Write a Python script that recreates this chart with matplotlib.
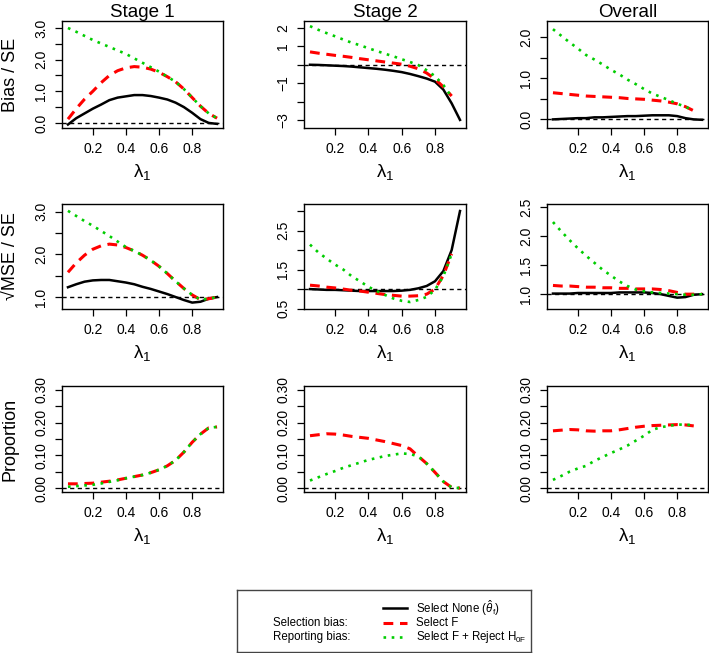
import numpy as np
import matplotlib
matplotlib.use("Agg")
import matplotlib.pyplot as plt

plt.rcParams['font.family'] = ['Liberation Sans', 'DejaVu Sans']
plt.rcParams['mathtext.fontset'] = 'custom'
plt.rcParams['mathtext.rm'] = 'Liberation Sans'
plt.rcParams['mathtext.it'] = 'Liberation Sans:italic'
plt.rcParams['mathtext.bf'] = 'Liberation Sans:bold'

nan = np.nan

# lambda_1 grid
lam = [0.05, 0.10, 0.15, 0.20, 0.25, 0.30, 0.35, 0.40, 0.45, 0.50,
       0.55, 0.60, 0.65, 0.70, 0.75, 0.80, 0.85, 0.90, 0.95]

# Bias / SE
bias_s1_none = [-0.05, 0.15, 0.30, 0.45, 0.58, 0.72, 0.80, 0.84, 0.88, 0.88,
                0.85, 0.80, 0.74, 0.64, 0.50, 0.32, 0.12, 0.00, -0.03]
bias_s1_sel = [0.12, 0.45, 0.75, 1.00, 1.27, 1.50, 1.65, 1.74, 1.78, 1.76,
               1.70, 1.60, 1.46, 1.30, 1.07, 0.80, 0.53, 0.30, 0.15]
bias_s1_rep = [3.00, 2.88, 2.75, 2.62, 2.51, 2.40, 2.29, 2.18, 2.04, 1.90,
               1.76, 1.62, 1.46, 1.30, 1.07, 0.80, 0.53, 0.30, 0.15]

bias_s2_none = [0.00, -0.01, -0.03, -0.05, -0.07, -0.10, -0.14, -0.18, -0.22, -0.27,
                -0.33, -0.40, -0.50, -0.62, -0.75, -0.92, -1.35, -2.10, -3.00]
bias_s2_sel = [0.70, 0.63, 0.57, 0.51, 0.46, 0.40, 0.33, 0.27, 0.21, 0.15,
               0.09, 0.03, -0.08, -0.22, -0.45, -0.78, -1.20, -1.70, nan]
bias_s2_rep = [2.10, 1.90, 1.72, 1.55, 1.37, 1.20, 1.06, 0.90, 0.75, 0.60,
               0.46, 0.30, 0.15, -0.02, -0.30, -0.62, -1.10, -1.75, nan]

bias_ov_none = [0.00, 0.01, 0.02, 0.03, 0.03, 0.05, 0.05, 0.06, 0.07, 0.08,
                0.08, 0.09, 0.10, 0.10, 0.10, 0.08, 0.03, 0.00, -0.01]
bias_ov_sel = [0.65, 0.63, 0.61, 0.59, 0.57, 0.56, 0.55, 0.54, 0.53, 0.51,
               0.50, 0.49, 0.47, 0.45, 0.42, 0.38, 0.31, 0.21, nan]
bias_ov_rep = [2.20, 2.04, 1.88, 1.73, 1.57, 1.46, 1.34, 1.21, 1.10, 0.97,
               0.86, 0.74, 0.63, 0.55, 0.47, 0.38, 0.31, 0.21, nan]

# sqrt(MSE) / SE
mse_s1_none = [1.23, 1.30, 1.36, 1.39, 1.40, 1.40, 1.37, 1.34, 1.30, 1.24,
               1.19, 1.13, 1.07, 1.00, 0.93, 0.87, 0.89, 0.96, 1.00]
mse_s1_sel = [1.58, 1.80, 1.98, 2.12, 2.20, 2.24, 2.22, 2.16, 2.08, 1.98,
              1.86, 1.72, 1.55, 1.37, 1.20, 1.05, 0.94, 0.96, 1.00]
mse_s1_rep = [3.02, 2.90, 2.78, 2.67, 2.55, 2.43, 2.30, 2.17, 2.08, 1.98,
              1.86, 1.72, 1.55, 1.37, 1.20, 1.05, 0.94, 0.96, 1.00]

mse_s2_none = [1.00, 0.99, 0.98, 0.98, 0.97, 0.96, 0.95, 0.95, 0.95, 0.95,
               0.95, 0.96, 0.98, 1.02, 1.08, 1.20, 1.46, 2.00, 3.00]
mse_s2_sel = [1.10, 1.08, 1.05, 1.03, 1.00, 0.97, 0.95, 0.92, 0.89, 0.86,
              0.84, 0.82, 0.82, 0.83, 0.87, 1.00, 1.35, 1.90, nan]
mse_s2_rep = [2.14, 1.94, 1.78, 1.63, 1.50, 1.33, 1.20, 1.06, 0.95, 0.85,
              0.76, 0.70, 0.67, 0.72, 0.80, 0.98, 1.33, 1.90, nan]

mse_ov_none = [1.01, 1.01, 1.01, 1.02, 1.02, 1.02, 1.02, 1.02, 1.03, 1.03,
               1.03, 1.03, 1.02, 1.00, 0.97, 0.94, 0.95, 0.99, 1.00]
mse_ov_sel = [1.15, 1.14, 1.14, 1.13, 1.12, 1.12, 1.11, 1.11, 1.10, 1.10,
              1.09, 1.09, 1.09, 1.08, 1.06, 1.03, 1.00, 1.00, 1.00]
mse_ov_rep = [2.24, 2.08, 1.93, 1.79, 1.66, 1.54, 1.42, 1.32, 1.22, 1.14,
              1.08, 1.05, 1.03, 1.02, 1.01, 1.00, 0.99, 0.99, 1.00]

# Proportion
prop_s1_sel = [0.013, 0.013, 0.014, 0.015, 0.018, 0.021, 0.025, 0.030, 0.035, 0.040,
               0.047, 0.056, 0.068, 0.085, 0.110, 0.140, 0.165, 0.184, 0.187]
prop_s1_rep = [0.004, 0.006, 0.008, 0.010, 0.014, 0.019, 0.024, 0.030, 0.035, 0.040,
               0.047, 0.056, 0.068, 0.085, 0.110, 0.140, 0.165, 0.184, 0.187]

prop_s2_sel = [0.160, 0.163, 0.166, 0.165, 0.162, 0.158, 0.155, 0.152, 0.147, 0.142,
               0.136, 0.130, 0.120, 0.097, 0.075, 0.048, 0.020, 0.002, 0.000]
prop_s2_rep = [0.023, 0.033, 0.043, 0.052, 0.062, 0.070, 0.078, 0.086, 0.092, 0.098,
               0.102, 0.106, 0.104, 0.097, 0.075, 0.048, 0.020, 0.002, 0.000]

prop_ov_sel = [0.175, 0.177, 0.179, 0.178, 0.175, 0.174, 0.175, 0.175, 0.178, 0.182,
               0.186, 0.189, 0.191, 0.192, 0.193, 0.194, 0.193, 0.190, nan]
prop_ov_rep = [0.025, 0.037, 0.050, 0.060, 0.068, 0.083, 0.095, 0.107, 0.118, 0.130,
               0.145, 0.160, 0.178, 0.186, 0.190, 0.194, 0.194, 0.192, nan]

col_titles = ['Stage 1', 'Stage 2', 'Overall']
row_labels = ['Bias / SE', '\u221aMSE / SE', 'Proportion']
ref_levels = [0.0, 1.0, 0.0]

series = [
    [(bias_s1_none, bias_s1_sel, bias_s1_rep),
     (bias_s2_none, bias_s2_sel, bias_s2_rep),
     (bias_ov_none, bias_ov_sel, bias_ov_rep)],
    [(mse_s1_none, mse_s1_sel, mse_s1_rep),
     (mse_s2_none, mse_s2_sel, mse_s2_rep),
     (mse_ov_none, mse_ov_sel, mse_ov_rep)],
    [(None, prop_s1_sel, prop_s1_rep),
     (None, prop_s2_sel, prop_s2_rep),
     (None, prop_ov_sel, prop_ov_rep)],
]

# y axis setup per panel: limits, tick positions, labelled ticks
ylims = [[(-0.16, 3.22), (-3.44, 2.38), (-0.21, 2.40)],
         [(0.72, 3.18), (0.49, 3.18), (0.745, 2.55)],
         [(-0.012, 0.312)] * 3]
yticks = [[np.arange(0, 3.01, 0.5), np.arange(-3, 2.01, 1), np.arange(0, 2.01, 0.5)],
          [np.arange(1, 3.01, 0.5), np.arange(0.5, 3.01, 0.5), np.arange(1, 2.51, 0.5)],
          [np.arange(0, 0.301, 0.05)] * 3]
ylabeled = [[[0.0, 1.0, 2.0, 3.0], [2, 1, -1, -3], [0.0, 1.0, 2.0]],
            [[1.0, 2.0, 3.0], [0.5, 1.5, 2.5], [1.0, 1.5, 2.0, 2.5]],
            [[0.0, 0.1, 0.2, 0.3]] * 3]
yfmt = [['{:.1f}', '{:.0f}', '{:.1f}'],
        ['{:.1f}'] * 3,
        ['{:.2f}'] * 3]

RED = '#FF0000'
GREEN = '#00CD00'
DOTS = (0, (1, 2.1))

W, H = 709, 653
fig = plt.figure(figsize=(W / 100, H / 100), dpi=100)

lefts = [62, 304, 547]
widths = [161, 162, 161]
tops = [21, 204, 386]
bottoms = [128, 309, 492]

for r in range(3):
    for c in range(3):
        ax = fig.add_axes([lefts[c] / W, 1 - bottoms[r] / H,
                           widths[c] / W, (bottoms[r] - tops[r]) / H])
        none_v, sel_v, rep_v = series[r][c]
        ax.axhline(ref_levels[r], color='black', lw=1.0, dashes=(3, 2.5), zorder=1)
        if none_v is not None:
            ax.plot(lam, none_v, color='black', lw=1.8, zorder=3)
        ax.plot(lam, sel_v, color=RED, lw=2.2, dashes=(3.2, 2.2), zorder=4)
        ax.plot(lam, rep_v, color=GREEN, lw=1.9, linestyle=DOTS, zorder=5)

        ax.set_xlim(0.014, 0.986)
        ax.set_ylim(*ylims[r][c])
        ax.set_xticks([0.2, 0.4, 0.6, 0.8])
        ax.set_xticklabels(['0.2', '0.4', '0.6', '0.8'])
        ticks = yticks[r][c]
        labs = []
        for t in ticks:
            if any(abs(t - v) < 1e-9 for v in ylabeled[r][c]):
                labs.append(yfmt[r][c].format(t).replace('-', '\u2212'))
            else:
                labs.append('')
        ax.set_yticks(ticks)
        ax.set_yticklabels(labs, rotation=90, va='center')
        ax.tick_params(axis='both', direction='out', length=5, width=0.9,
                       labelsize=10, colors='black')
        ax.tick_params(axis='x', pad=5)
        ax.tick_params(axis='y', pad=5)
        for s in ax.spines.values():
            s.set_linewidth(1.0)

        ax.set_xlabel('λ$_1$', fontsize=13.5)
        ax.xaxis.set_label_coords(0.5, -0.32)
        if c == 0:
            ax.set_ylabel(row_labels[r], fontsize=13)
            ax.yaxis.set_label_coords(-0.27, 0.5)
        if r == 0:
            ax.set_title(col_titles[c], fontsize=13.5, pad=3)

# legend panel
lg = fig.add_axes([237 / W, 1 / H, 294 / W, 62 / H])
lg.set_xlim(0, 1)
lg.set_ylim(0, 1)
lg.set_xticks([])
lg.set_yticks([])
for s in lg.spines.values():
    s.set_linewidth(1.0)
    s.set_color('#444444')

rows_y = [0.71, 0.47, 0.24]
left_txt = ['', 'Selection bias:', 'Reporting bias:']
right_txt = [r'Select None ($\hat{\theta}_{\mathrm{f}}$)', 'Select F',
             r'Select F + Reject H$_{\mathrm{0F}}$']
styles = [dict(color='black', lw=1.8),
          dict(color=RED, lw=2.2, dashes=(3.2, 2.2)),
          dict(color=GREEN, lw=1.9, linestyle=DOTS)]
for y, lt, rt, st in zip(rows_y, left_txt, right_txt, styles):
    if lt:
        lg.text(0.122, y, lt, fontsize=8.3, va='center', ha='left')
    lg.plot([0.495, 0.578], [y, y], **st)
    lg.text(0.61, y, rt, fontsize=8.3, va='center', ha='left')

fig.savefig('out.png', dpi=100)
